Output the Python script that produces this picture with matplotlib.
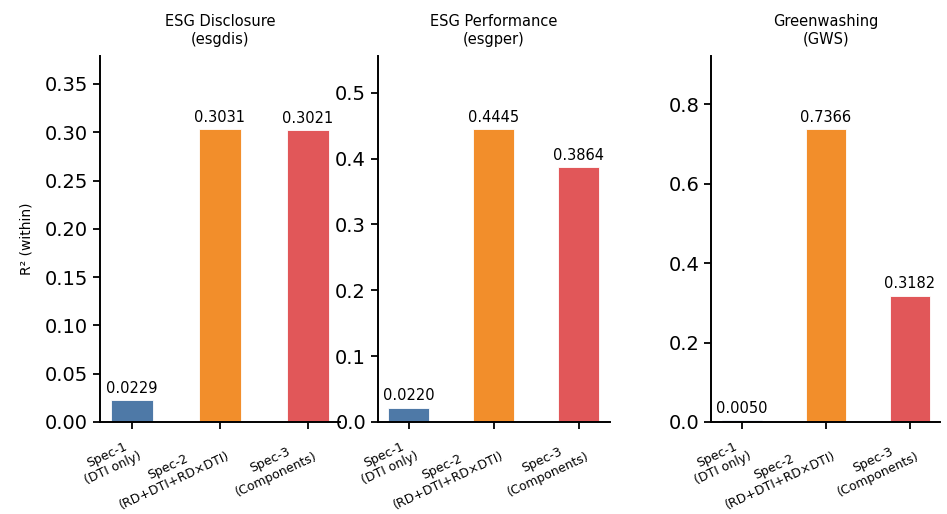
import matplotlib
matplotlib.use("Agg")
import matplotlib.pyplot as plt

specs = ["Spec-1\n(DTI only)", "Spec-2\n(RD+DTI+RD×DTI)", "Spec-3\n(Components)"]
titles = ["ESG Disclosure\n(esgdis)", "ESG Performance\n(esgper)", "Greenwashing\n(GWS)"]
r2_esgdis = [0.0229, 0.3031, 0.3021]
r2_esgper = [0.0220, 0.4445, 0.3864]
r2_gws = [0.0050, 0.7366, 0.3182]
colors = ["#4e79a7", "#f28e2b", "#e15759"]

fig = plt.figure(figsize=(9.47, 5.14), dpi=100)
positions = [
    [0.1056, 0.179, 0.253, 0.712],
    [0.399, 0.179, 0.245, 0.712],
    [0.751, 0.179, 0.242, 0.712],
]

for i, (vals, title) in enumerate(zip([r2_esgdis, r2_esgper, r2_gws], titles)):
    ax = fig.add_axes(positions[i])
    x = range(len(vals))
    bars = ax.bar(x, vals, width=0.48, color=colors, edgecolor="white", linewidth=0.6)
    for b, v in zip(bars, vals):
        ax.annotate(f"{v:.4f}", (b.get_x() + b.get_width() / 2, v),
                    xytext=(0, 3), textcoords="offset points",
                    ha="center", va="bottom", fontsize=10.5)
    ax.set_ylim(0, max(vals) * 1.25)
    ax.set_title(title, fontsize=10.5, pad=9)
    ax.set_xticks(list(x))
    ax.set_xticklabels(specs, rotation=25, ha="right", rotation_mode="anchor",
                       multialignment="center", fontsize=9)
    ax.tick_params(axis="y", labelsize=14, width=1.3, length=5)
    ax.tick_params(axis="x", width=1.3, length=5, pad=5)
    ax.spines["top"].set_visible(False)
    ax.spines["right"].set_visible(False)
    ax.spines["left"].set_linewidth(1.4)
    ax.spines["bottom"].set_linewidth(1.4)
    if i == 0:
        ax.set_ylabel("R² (within)", fontsize=10, labelpad=8)

fig.savefig("out.png", dpi=100)
